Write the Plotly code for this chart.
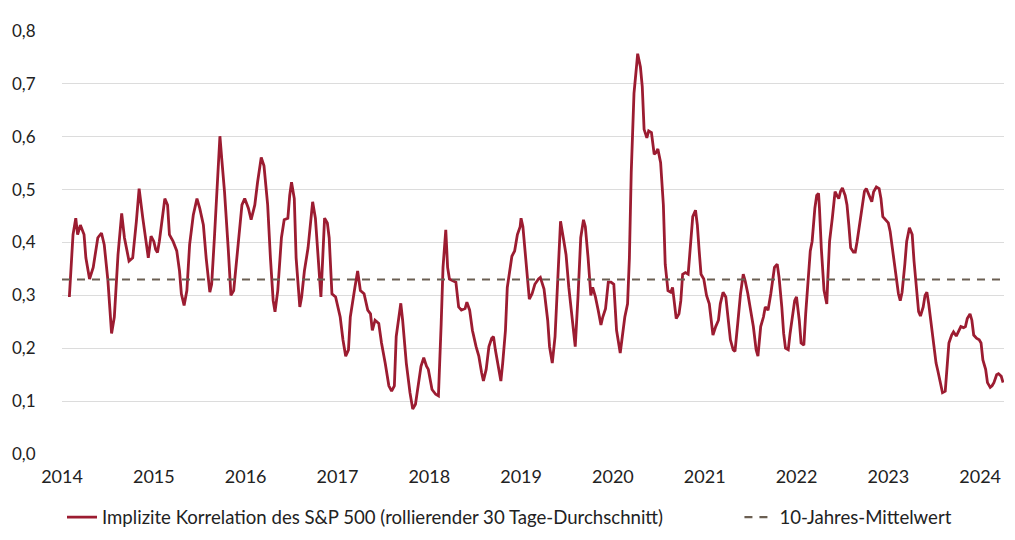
import plotly.graph_objects as go

# implied correlation (decimal years)
years = [
    2014.08, 2014.12, 2014.15, 2014.17, 2014.20, 2014.24, 2014.26, 2014.30, 2014.34, 2014.36,
    2014.39, 2014.43, 2014.46, 2014.50, 2014.54, 2014.57, 2014.61, 2014.65, 2014.68, 2014.73,
    2014.77, 2014.81, 2014.84, 2014.88, 2014.92, 2014.94, 2014.97, 2015.00, 2015.02, 2015.04,
    2015.06, 2015.09, 2015.12, 2015.15, 2015.17, 2015.21, 2015.25, 2015.28, 2015.30, 2015.33,
    2015.36, 2015.39, 2015.43, 2015.47, 2015.50, 2015.54, 2015.57, 2015.61, 2015.63, 2015.66,
    2015.69, 2015.71, 2015.72, 2015.74, 2015.77, 2015.81, 2015.84, 2015.87, 2015.91, 2015.94,
    2015.96, 2015.99, 2016.03, 2016.06, 2016.10, 2016.13, 2016.17, 2016.20, 2016.24, 2016.27,
    2016.30, 2016.32, 2016.35, 2016.39, 2016.42, 2016.46, 2016.48, 2016.50, 2016.53, 2016.55,
    2016.59, 2016.61, 2016.64, 2016.68, 2016.73, 2016.76, 2016.79, 2016.82, 2016.86, 2016.89,
    2016.91, 2016.94, 2016.98, 2017.03, 2017.06, 2017.09, 2017.12, 2017.14, 2017.19, 2017.22,
    2017.25, 2017.29, 2017.33, 2017.36, 2017.38, 2017.41, 2017.45, 2017.48, 2017.52, 2017.56,
    2017.59, 2017.62, 2017.64, 2017.67, 2017.69, 2017.71, 2017.75, 2017.79, 2017.82, 2017.85,
    2017.89, 2017.91, 2017.94, 2017.97, 2017.99, 2018.03, 2018.07, 2018.10, 2018.13, 2018.15,
    2018.18, 2018.20, 2018.22, 2018.25, 2018.29, 2018.32, 2018.35, 2018.39, 2018.41, 2018.44,
    2018.47, 2018.51, 2018.54, 2018.57, 2018.59, 2018.62, 2018.65, 2018.68, 2018.70, 2018.72,
    2018.75, 2018.78, 2018.80, 2018.83, 2018.85, 2018.88, 2018.90, 2018.93, 2018.96, 2018.99,
    2019.00, 2019.02, 2019.05, 2019.07, 2019.09, 2019.12, 2019.15, 2019.19, 2019.21, 2019.25,
    2019.29, 2019.31, 2019.34, 2019.37, 2019.40, 2019.43, 2019.46, 2019.49, 2019.52, 2019.56,
    2019.59, 2019.62, 2019.65, 2019.68, 2019.70, 2019.73, 2019.76, 2019.78, 2019.81, 2019.84,
    2019.87, 2019.89, 2019.92, 2019.95, 2019.98, 2020.01, 2020.04, 2020.08, 2020.10, 2020.13,
    2020.16, 2020.18, 2020.20, 2020.23, 2020.26, 2020.27, 2020.30, 2020.32, 2020.34, 2020.37,
    2020.39, 2020.42, 2020.45, 2020.47, 2020.49, 2020.52, 2020.55, 2020.57, 2020.60, 2020.63,
    2020.65, 2020.67, 2020.69, 2020.72, 2020.74, 2020.76, 2020.79, 2020.82, 2020.84, 2020.87,
    2020.90, 2020.92, 2020.94, 2020.96, 2020.99, 2021.02, 2021.05, 2021.07, 2021.09, 2021.12,
    2021.15, 2021.17, 2021.20, 2021.23, 2021.25, 2021.28, 2021.31, 2021.33, 2021.36, 2021.39,
    2021.42, 2021.44, 2021.47, 2021.50, 2021.53, 2021.56, 2021.58, 2021.61, 2021.64, 2021.66,
    2021.69, 2021.72, 2021.74, 2021.76, 2021.79, 2021.81, 2021.84, 2021.86, 2021.88, 2021.91,
    2021.93, 2021.96, 2021.98, 2022.00, 2022.03, 2022.05, 2022.08, 2022.10, 2022.13, 2022.15,
    2022.17, 2022.20, 2022.22, 2022.24, 2022.25, 2022.27, 2022.30, 2022.33, 2022.34, 2022.36,
    2022.39, 2022.41, 2022.42, 2022.44, 2022.46, 2022.48, 2022.50, 2022.53, 2022.55, 2022.57,
    2022.59, 2022.62, 2022.64, 2022.66, 2022.69, 2022.71, 2022.74, 2022.76, 2022.79, 2022.82,
    2022.84, 2022.87, 2022.90, 2022.92, 2022.94, 2022.97, 2023.00, 2023.02, 2023.05, 2023.08,
    2023.11, 2023.13, 2023.15, 2023.18, 2023.20, 2023.23, 2023.26, 2023.28, 2023.31, 2023.33,
    2023.35, 2023.38, 2023.40, 2023.42, 2023.44, 2023.47, 2023.50, 2023.52, 2023.54, 2023.57,
    2023.59, 2023.62, 2023.64, 2023.66, 2023.69, 2023.71, 2023.74, 2023.76, 2023.79, 2023.82,
    2023.84, 2023.86, 2023.89, 2023.91, 2023.93, 2023.96, 2023.99, 2024.01, 2024.03, 2024.06,
    2024.08, 2024.11, 2024.13, 2024.15, 2024.18, 2024.20, 2024.23, 2024.25,
]
korrelation = [
    0.297, 0.415, 0.446, 0.415, 0.433, 0.415, 0.371, 0.331, 0.353, 0.377,
    0.409, 0.418, 0.396, 0.328, 0.228, 0.259, 0.377, 0.455, 0.409, 0.365,
    0.371, 0.440, 0.502, 0.446, 0.390, 0.371, 0.412, 0.402, 0.387, 0.381,
    0.402, 0.446, 0.483, 0.471, 0.415, 0.402, 0.384, 0.346, 0.303, 0.281,
    0.309, 0.396, 0.452, 0.483, 0.465, 0.433, 0.371, 0.306, 0.321, 0.409,
    0.514, 0.576, 0.601, 0.558, 0.496, 0.390, 0.300, 0.309, 0.384, 0.440,
    0.471, 0.483, 0.465, 0.443, 0.471, 0.514, 0.561, 0.545, 0.471, 0.371,
    0.290, 0.269, 0.309, 0.409, 0.443, 0.446, 0.489, 0.514, 0.483, 0.371,
    0.278, 0.297, 0.346, 0.390, 0.477, 0.446, 0.365, 0.297, 0.446, 0.437,
    0.409, 0.303, 0.297, 0.259, 0.216, 0.185, 0.197, 0.259, 0.315, 0.346,
    0.309, 0.303, 0.272, 0.265, 0.234, 0.253, 0.247, 0.210, 0.172, 0.129,
    0.119, 0.129, 0.222, 0.265, 0.285, 0.253, 0.172, 0.116, 0.085, 0.094,
    0.147, 0.166, 0.182, 0.166, 0.160, 0.122, 0.113, 0.110, 0.247, 0.353,
    0.424, 0.353, 0.331, 0.328, 0.325, 0.278, 0.272, 0.275, 0.287, 0.272,
    0.234, 0.203, 0.185, 0.154, 0.138, 0.160, 0.203, 0.219, 0.222, 0.197,
    0.166, 0.138, 0.172, 0.234, 0.315, 0.353, 0.374, 0.384, 0.415, 0.430,
    0.446, 0.430, 0.371, 0.340, 0.293, 0.303, 0.321, 0.331, 0.334, 0.312,
    0.253, 0.203, 0.172, 0.222, 0.346, 0.440, 0.409, 0.377, 0.315, 0.247,
    0.203, 0.297, 0.409, 0.443, 0.430, 0.371, 0.300, 0.315, 0.297, 0.272,
    0.244, 0.259, 0.275, 0.325, 0.325, 0.321, 0.234, 0.191, 0.216, 0.259,
    0.284, 0.371, 0.533, 0.682, 0.738, 0.757, 0.732, 0.695, 0.614, 0.598,
    0.611, 0.608, 0.567, 0.570, 0.577, 0.551, 0.471, 0.359, 0.309, 0.306,
    0.315, 0.284, 0.256, 0.265, 0.290, 0.340, 0.343, 0.340, 0.390, 0.449,
    0.461, 0.433, 0.384, 0.340, 0.331, 0.300, 0.284, 0.253, 0.225, 0.241,
    0.253, 0.284, 0.306, 0.297, 0.259, 0.216, 0.197, 0.194, 0.247, 0.303,
    0.340, 0.328, 0.303, 0.272, 0.241, 0.197, 0.185, 0.241, 0.259, 0.278,
    0.272, 0.303, 0.328, 0.353, 0.359, 0.334, 0.278, 0.228, 0.200, 0.197,
    0.228, 0.272, 0.290, 0.297, 0.253, 0.210, 0.206, 0.265, 0.340, 0.384,
    0.402, 0.465, 0.489, 0.493, 0.465, 0.390, 0.309, 0.284, 0.328, 0.402,
    0.446, 0.483, 0.496, 0.489, 0.483, 0.497, 0.503, 0.489, 0.471, 0.433,
    0.390, 0.382, 0.382, 0.402, 0.440, 0.465, 0.497, 0.502, 0.489, 0.477,
    0.496, 0.505, 0.502, 0.483, 0.449, 0.443, 0.437, 0.421, 0.384, 0.340,
    0.303, 0.290, 0.306, 0.359, 0.402, 0.428, 0.415, 0.365, 0.309, 0.269,
    0.261, 0.278, 0.300, 0.306, 0.284, 0.241, 0.197, 0.172, 0.157, 0.135,
    0.116, 0.119, 0.160, 0.210, 0.225, 0.231, 0.223, 0.231, 0.241, 0.239,
    0.241, 0.256, 0.265, 0.253, 0.225, 0.219, 0.216, 0.210, 0.178, 0.160,
    0.135, 0.126, 0.129, 0.135, 0.150, 0.152, 0.147, 0.135,
]

mittelwert = 0.33
x_start, x_end = 2014, 2024.26
year_ticks = list(range(2014, 2025))
y_ticks = [0.0, 0.1, 0.2, 0.3, 0.4, 0.5, 0.6, 0.7, 0.8]

gap = "\u00a0" * 15  # widen the space between the two legend entries

fig = go.Figure()
fig.add_trace(go.Scatter(
    x=years, y=korrelation, mode="lines",
    name="Implizite Korrelation des S&P 500 (rollierender 30 Tage-Durchschnitt)" + gap,
    line=dict(color="#9c1c31", width=2.8),
))
fig.add_trace(go.Scatter(
    x=[x_start, x_end], y=[mittelwert, mittelwert], mode="lines",
    name="10-Jahres-Mittelwert",
    line=dict(color="#6b5f52", width=2.2, dash="8px,7px"),
))

fig.update_layout(
    width=1015, height=540,
    margin=dict(l=54, r=19, t=23, b=88),
    paper_bgcolor="white", plot_bgcolor="white",
    separators=",.",
    font=dict(family="Lato, Open Sans, sans-serif", size=17, color="#222222"),
    showlegend=True,
    legend=dict(
        orientation="h", x=0.0, xanchor="left", y=-0.15, yanchor="middle",
        font=dict(size=18.6), traceorder="normal",
    ),
    xaxis=dict(
        range=[x_start, x_end], tickvals=year_ticks,
        ticktext=[str(y) for y in year_ticks],
        showgrid=False, zeroline=False, showline=False, automargin=False,
        ticks="outside", ticklen=6, tickcolor="rgba(0,0,0,0)",
        tickfont=dict(size=18),
    ),
    yaxis=dict(
        range=[0, 0.8], tickvals=y_ticks, tickformat=".1f",
        showgrid=True, gridcolor="#dcdcdc", gridwidth=1,
        zeroline=False, showline=False, automargin=False,
        ticks="outside", ticklen=22, tickcolor="rgba(0,0,0,0)",
    ),
)

fig.write_html("out.html")
